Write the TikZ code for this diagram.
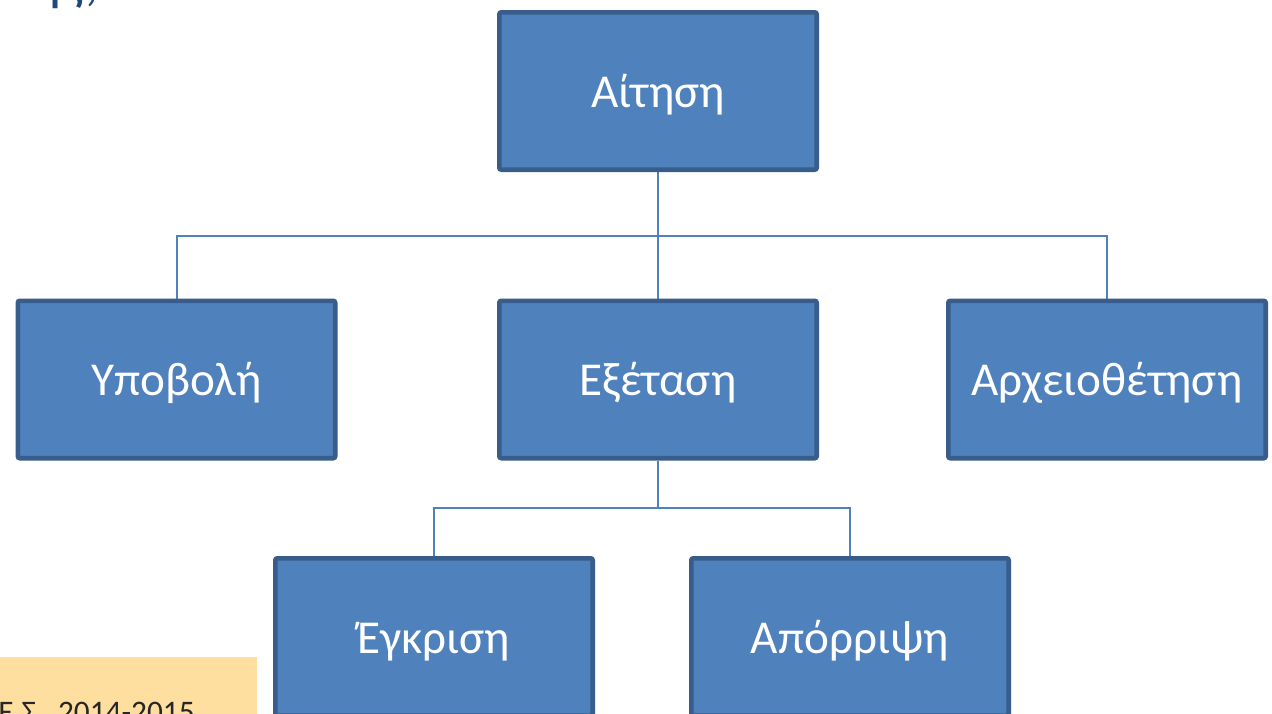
\documentclass[tikz,border=0pt]{standalone}
\usepackage{fontspec}
\setmainfont{Carlito}
\usetikzlibrary{backgrounds}
\definecolor{boxfill}{HTML}{4F81BD}
\definecolor{boxline}{HTML}{385D8A}
\definecolor{connc}{HTML}{4F81BD}
\definecolor{notefill}{HTML}{FEDF9F}
\definecolor{titleblue}{HTML}{1F497D}
\definecolor{notetext}{HTML}{262626}
\begin{document}
\begin{tikzpicture}[x=0.75pt,y=-0.75pt,
  stage/.style={draw=boxline, fill=boxfill, line width=3.5pt, rounded corners=1.5pt,
    minimum width=238pt, minimum height=118pt, inner sep=0pt, text=white,
    text height=24pt, text depth=0pt,
    font=\fontsize{35.4}{42}\selectfont},
  conn/.style={draw=connc, line width=1.5pt}]
\useasboundingbox (0,0) rectangle (1272,714);
\clip (0,0) rectangle (1272,714);
% title remnant
\node[anchor=base east, inner sep=0pt, text=titleblue, font=\fontsize{43}{50}\selectfont] (title) at (100,-1) {αίτησης;};
% stages
\node[stage] (ait) at (658,91) {Αίτηση};
\node[stage] (ypo) at (176.5,379.5) {Υποβολή};
\node[stage] (exe) at (658,379.5) {Εξέταση};
\node[stage] (arc) at (1107,379.5) {Αρχειοθέτηση};
\node[stage] (egk) at (434,637) {Έγκριση};
\node[stage] (apo) at (850,637) {Απόρριψη};
% note
\node[fill=notefill, minimum width=192.75pt, minimum height=45pt, inner sep=0pt, anchor=north west] (note) at (0,657) {};
\node[anchor=base east, inner sep=0pt, text=notetext, font=\fontsize{23.5}{28}\selectfont] (year) at (195,722) {Ε.Σ.\ \ 2014-2015};
% connectors
\begin{scope}[on background layer]
\coordinate (j1) at (658,236);
\coordinate (j2) at (658,508);
\draw[conn] (ait.south) -- (j1);
\draw[conn] (j1) -| (ypo.north);
\draw[conn] (j1) -| (arc.north);
\draw[conn] (j1) -- (exe.north);
\draw[conn] (exe.south) -- (j2);
\draw[conn] (j2) -| (egk.north);
\draw[conn] (j2) -| (apo.north);
\end{scope}
\end{tikzpicture}
\end{document}
